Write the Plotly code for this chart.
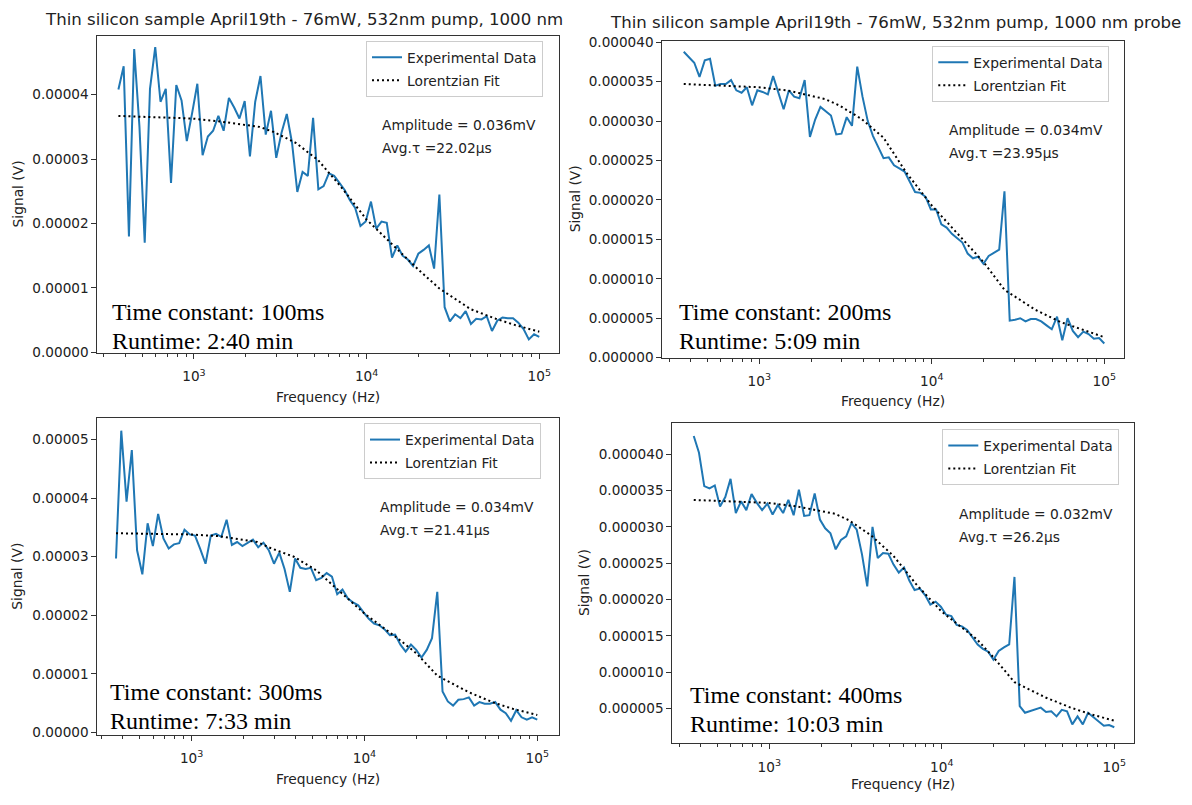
import plotly.graph_objects as go

# ---------------- data ----------------
freq_hz = [365, 391.5, 420.0, 450.5, 483.3, 518.4, 556.1, 596.5, 639.9, 686.4,
           736.3, 789.8, 847.2, 908.8, 974.9, 1045.8, 1121.8, 1203.3, 1290.8, 1384.6,
           1485.3, 1593.3, 1709.1, 1833.3, 1966.6, 2109.6, 2262.9, 2427.4, 2603.9, 2793.2,
           2996.2, 3214.0, 3447.6, 3698.2, 3967.1, 4255.5, 4564.8, 4896.7, 5252.6, 5634.5,
           6044.1, 6483.5, 6954.8, 7460.4, 8002.7, 8584.5, 9208.6, 9878.0, 10596, 11366,
           12193, 13079, 14030, 15050, 16144, 17318, 18577, 19927, 21376, 22930,
           24597, 26385, 28303, 30361, 32568, 34936, 37475, 40200, 43122, 46257,
           49620, 53227, 57097, 61247, 65700, 70476, 75600, 81096, 86991, 93315, 100000]

# signals in microvolts
signal_100ms_uV = [40.8, 44.4, 18.0, 47.1, 35.0, 17.0, 40.9, 47.4, 38.9, 40.9,
                   26.3, 41.5, 39.1, 32.8, 37.1, 41.7, 30.6, 33.5, 34.4, 36.7,
                   34.4, 39.5, 38.0, 36.3, 39.0, 30.4, 38.9, 42.9, 33.8, 37.5,
                   30.2, 34.1, 37.0, 32.5, 24.9, 28.0, 27.4, 36.4, 25.3, 25.8,
                   27.8, 27.4, 26.3, 25.2, 23.6, 22.4, 19.6, 20.3, 23.4, 19.2,
                   20.3, 20.1, 14.7, 16.6, 15.0, 14.4, 13.4, 15.3, 15.9, 16.6,
                   13.0, 24.5, 7.0, 4.8, 5.9, 5.3, 6.4, 4.4, 5.2, 5.1,
                   5.6, 3.3, 4.9, 5.4, 5.3, 5.3, 4.6, 3.6, 2.0, 2.8, 2.4]
signal_200ms_uV = [38.8, 38.1, 37.4, 35.6, 37.7, 37.9, 34.5, 34.7, 34.7, 35.2,
                   33.9, 33.6, 34.3, 32.0, 33.9, 33.7, 33.4, 35.7, 33.7, 31.5,
                   33.9, 33.1, 32.9, 35.2, 28.0, 30.2, 31.8, 31.2, 30.7, 28.3,
                   28.4, 30.5, 29.4, 36.9, 33.1, 30.0, 28.1, 26.7, 25.3, 25.4,
                   24.4, 24.0, 23.6, 22.3, 21.0, 20.9, 20.4, 18.8, 18.8, 16.9,
                   16.5, 15.7, 15.2, 14.6, 13.2, 12.6, 12.8, 11.9, 12.9, 13.3,
                   13.7, 21.1, 4.7, 4.8, 5.0, 4.6, 4.9, 4.9, 4.6, 4.1,
                   3.6, 5.2, 2.2, 5.0, 3.4, 2.6, 3.3, 3.0, 2.4, 2.5, 1.8]
signal_300ms_uV = [29.7, 51.5, 39.4, 48.2, 31.1, 27.0, 35.7, 31.8, 37.3, 33.1,
                   31.4, 32.1, 32.3, 34.6, 33.8, 33.6, 31.3, 28.8, 33.6, 33.9,
                   33.4, 36.3, 32.0, 32.5, 31.8, 32.4, 32.9, 31.6, 32.4, 31.1,
                   28.8, 30.7, 27.9, 24.0, 29.7, 28.1, 27.9, 28.1, 26.0, 26.4,
                   27.2, 26.6, 23.6, 24.4, 22.9, 22.2, 21.7, 20.5, 19.4, 18.6,
                   18.3, 17.6, 16.6, 16.7, 15.0, 13.8, 15.0, 14.1, 12.8, 14.1,
                   16.1, 24.0, 7.0, 5.3, 4.6, 5.6, 5.7, 6.0, 4.6, 5.2,
                   4.9, 4.9, 5.2, 3.9, 3.3, 2.0, 3.8, 2.6, 2.2, 2.6, 2.2]
signal_400ms_uV = [42.5, 40.2, 35.6, 35.3, 35.7, 32.8, 34.1, 36.6, 31.9, 33.5,
                   32.3, 34.5, 33.3, 32.3, 33.2, 31.7, 33.0, 31.9, 33.7, 31.6,
                   35.1, 31.5, 31.6, 34.6, 31.0, 29.8, 29.1, 26.9, 28.2, 28.7,
                   30.5, 29.6, 26.2, 21.8, 30.0, 25.7, 26.4, 26.3, 24.8, 23.7,
                   24.4, 22.6, 21.3, 21.5, 20.6, 19.3, 19.7, 19.0, 17.9, 17.7,
                   16.5, 16.3, 15.8, 14.8, 13.8, 13.2, 12.8, 11.7, 12.9, 13.4,
                   13.8, 23.1, 5.3, 4.4, 4.6, 4.9, 5.1, 4.5, 4.6, 3.9,
                   4.8, 4.6, 2.8, 3.9, 2.8, 4.4, 3.8, 3.2, 2.6, 2.7, 2.4]

fit_freq_hz = [365, 975, 1450, 2400, 2900, 3900, 5250, 7100, 10000, 16000,
               20000, 26400, 40000, 56000, 73000, 100000]
fit_100ms_uV = [36.7, 36.3, 35.8, 35.0, 34.2, 32.5, 29.8, 25.7, 20.6, 15.3,
                12.8, 9.9, 6.7, 5.2, 4.2, 3.2]
fit_200ms_uV = [34.7, 34.3, 33.9, 32.8, 32.0, 30.3, 27.9, 23.5, 19.3, 14.4,
                12.1, 8.6, 6.05, 4.5, 3.6, 2.6]
fit_300ms_uV = [34.0, 33.8, 33.5, 32.5, 31.4, 30.0, 27.7, 24.2, 20.3, 15.8,
                13.5, 9.7, 6.9, 5.1, 4.0, 3.0]
fit_400ms_uV = [33.7, 33.3, 32.8, 31.8, 30.9, 28.8, 26.0, 22.1, 18.3, 14.5,
                12.0, 8.6, 6.5, 5.1, 4.2, 3.3]

amplitude_labels = ["Amplitude = 0.036mV", "Amplitude = 0.034mV",
                    "Amplitude = 0.034mV", "Amplitude = 0.032mV"]
tau_labels = ["Avg.τ =22.02μs", "Avg.τ =23.95μs", "Avg.τ =21.41μs", "Avg.τ =26.2μs"]
time_constant_labels = ["Time constant: 100ms", "Time constant: 200ms",
                        "Time constant: 300ms", "Time constant: 400ms"]
runtime_labels = ["Runtime: 2:40 min", "Runtime: 5:09 min",
                  "Runtime: 7:33 min", "Runtime: 10:03 min"]
title_left = "Thin silicon sample April19th - 76mW, 532nm pump, 1000 nm"
title_right = "Thin silicon sample April19th - 76mW, 532nm pump, 1000 nm probe"
x_tick_vals = [1e3, 1e4, 1e5]
x_tick_text = ["10<sup>3</sup>", "10<sup>4</sup>", "10<sup>5</sup>"]

signals = [signal_100ms_uV, signal_200ms_uV, signal_300ms_uV, signal_400ms_uV]
fits = [fit_100ms_uV, fit_200ms_uV, fit_300ms_uV, fit_400ms_uV]

# ---------------- layout geometry (pixels) ----------------
W, H = 1192, 805
def fx(p): return p / W
def fy(p): return 1 - p / H

panels = [
    dict(bx=(97.3, 559.3), by=(29.3, 352.5), xr=(2.440, 5.116), yr=(-0.1e-6, 49.15e-6),
         dtick=1e-5, fmt=".5f", leg=(366, 34.5), amp=(380, 120, 143.3),
         tc=(110, 311, 340.7), ylab=(18, 191), xlab=(328.3, 397)),
    dict(bx=(662.3, 1124.3), by=(34.3, 357.5), xr=(2.438, 5.116), yr=(-0.02e-6, 40.2e-6),
         dtick=5e-6, fmt=".6f", leg=(932.3, 39.5), amp=(946.7, 125, 148.3),
         tc=(676.7, 311, 340), ylab=(575, 196), xlab=(893.3, 401)),
    dict(bx=(97.3, 558.7), by=(419.3, 741.7), xr=(2.454, 5.124), yr=(-0.4e-6, 53.58e-6),
         dtick=1e-5, fmt=".5f", leg=(364, 424), amp=(378.3, 510, 533.3),
         tc=(108.3, 698.3, 727.7), ylab=(17, 580.5), xlab=(328, 786.7)),
    dict(bx=(672.3, 1134.3), by=(424, 750.3), xr=(2.438, 5.116), yr=(0.19e-6, 44.28e-6),
         dtick=5e-6, fmt=".6f", leg=(942.3, 430), amp=(956.7, 517, 539.7),
         tc=(687.7, 700.7, 730.3), ylab=(584, 587), xlab=(903.3, 792)),
]

SANS = "DejaVu Sans"
SERIF = "Liberation Serif"
TXT = "#222222"
AX = "#333333"
BLUE = "#1f77b4"
FS = 13.8      # general text size
FS_TICK = 13.6

minor_x = [m * 10 ** e for e in (2, 3, 4) for m in range(2, 10)]

fig = go.Figure()
layout = dict(width=W, height=H, margin=dict(l=0, r=0, t=0, b=0),
              paper_bgcolor="white", plot_bgcolor="white", showlegend=True,
              font=dict(family=SANS, size=FS, color=TXT))
annotations = []

for k, p in enumerate(panels):
    n = k + 1
    sfx = "" if n == 1 else str(n)
    legname = "legend" if n == 1 else f"legend{n}"
    fig.add_trace(go.Scatter(
        x=freq_hz, y=[v * 1e-6 for v in signals[k]], mode="lines",
        line=dict(color=BLUE, width=2), name="Experimental Data",
        xaxis=f"x{sfx}", yaxis=f"y{sfx}", legend=legname, legendgroup=f"d{n}"))
    fig.add_trace(go.Scatter(
        x=fit_freq_hz, y=[v * 1e-6 for v in fits[k]], mode="lines",
        line=dict(color="black", width=2, dash="2px,3px"), name="Lorentzian Fit",
        xaxis=f"x{sfx}", yaxis=f"y{sfx}", legend=legname, legendgroup=f"f{n}"))

    layout[f"xaxis{sfx}"] = dict(
        domain=[fx(p["bx"][0]), fx(p["bx"][1])], anchor=f"y{sfx}", type="log",
        range=list(p["xr"]), tickvals=x_tick_vals, ticktext=x_tick_text,
        ticks="outside", ticklen=5, tickcolor=AX, tickwidth=1, ticklabelstandoff=6,
        showline=True, mirror=True, linecolor=AX, linewidth=1,
        showgrid=False, zeroline=False, tickfont=dict(size=FS_TICK, color=TXT),
        minor=dict(tickvals=minor_x, ticks="outside", ticklen=3, tickcolor=AX, showgrid=False))
    layout[f"yaxis{sfx}"] = dict(
        domain=[fy(p["by"][1]), fy(p["by"][0])], anchor=f"x{sfx}",
        range=list(p["yr"]), tick0=0, dtick=p["dtick"], tickformat=p["fmt"],
        ticks="outside", ticklen=5, tickcolor=AX, tickwidth=1,
        showline=True, mirror=True, linecolor=AX, linewidth=1,
        showgrid=False, zeroline=False, tickfont=dict(size=FS_TICK, color=TXT))
    layout[legname] = dict(
        x=fx(p["leg"][0]), y=fy(p["leg"][1]), xanchor="left", yanchor="top",
        bgcolor="rgba(255,255,255,0.8)", bordercolor="#cccccc", borderwidth=1,
        font=dict(family=SANS, size=FS, color=TXT), itemwidth=30,
        traceorder="grouped", tracegroupgap=2)

    ax, ay1, ay2 = p["amp"]
    annotations.append(dict(text=amplitude_labels[k], x=fx(ax), y=fy(ay1), xref="paper", yref="paper",
                            xanchor="left", yanchor="middle", showarrow=False,
                            font=dict(family=SANS, size=FS, color=TXT)))
    annotations.append(dict(text=tau_labels[k], x=fx(ax), y=fy(ay2), xref="paper", yref="paper",
                            xanchor="left", yanchor="middle", showarrow=False,
                            font=dict(family=SANS, size=FS, color=TXT)))
    tx, ty1, ty2 = p["tc"]
    annotations.append(dict(text=time_constant_labels[k], x=fx(tx), y=fy(ty1), xref="paper", yref="paper",
                            xanchor="left", yanchor="middle", showarrow=False,
                            font=dict(family=SERIF, size=24, color="black")))
    annotations.append(dict(text=runtime_labels[k], x=fx(tx), y=fy(ty2), xref="paper", yref="paper",
                            xanchor="left", yanchor="middle", showarrow=False,
                            font=dict(family=SERIF, size=24, color="black")))
    annotations.append(dict(text="Signal (V)", x=fx(p["ylab"][0]), y=fy(p["ylab"][1]),
                            xref="paper", yref="paper", xanchor="center", yanchor="middle",
                            textangle=-90, showarrow=False, font=dict(family=SANS, size=FS, color=TXT)))
    annotations.append(dict(text="Frequency (Hz)", x=fx(p["xlab"][0]), y=fy(p["xlab"][1]),
                            xref="paper", yref="paper", xanchor="center", yanchor="middle",
                            showarrow=False, font=dict(family=SANS, size=FS, color=TXT)))

annotations.append(dict(text=title_left, x=fx(43), y=fy(12.7), xref="paper", yref="paper",
                        xanchor="left", yanchor="middle", showarrow=False,
                        font=dict(family=SANS, size=16.6, color=TXT)))
annotations.append(dict(text=title_right, x=fx(895), y=fy(16), xref="paper", yref="paper",
                        xanchor="center", yanchor="middle", showarrow=False,
                        font=dict(family=SANS, size=16.6, color=TXT)))

layout["annotations"] = annotations
fig.update_layout(**layout)
fig.write_html("out.html")
